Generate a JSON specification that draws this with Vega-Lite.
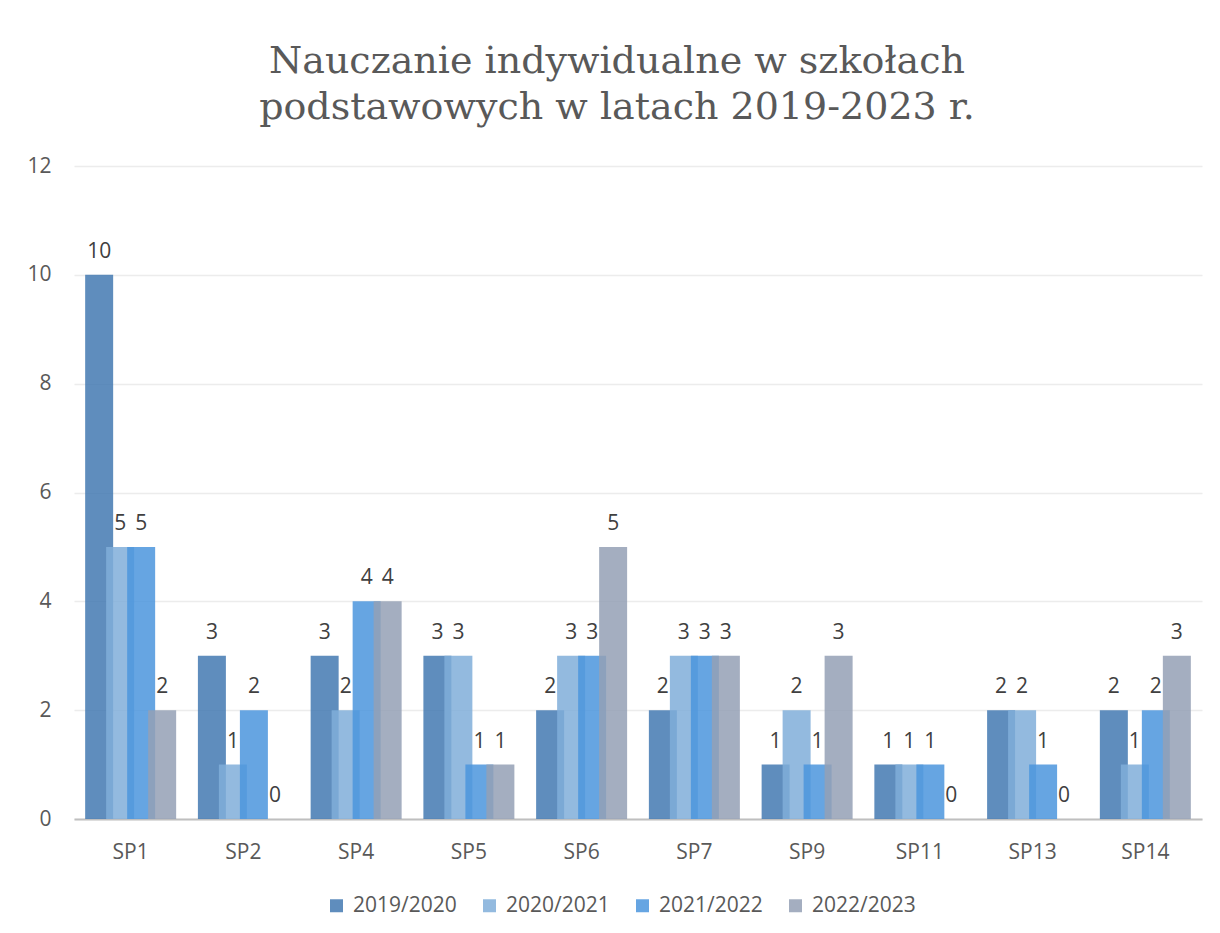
{
  "$schema": "https://vega.github.io/schema/vega-lite/v6.json",
  "width": 1128,
  "height": 653,
  "autosize": {"type": "none"},
  "padding": {"left": 74, "top": 166, "right": 18, "bottom": 114},
  "background": "white",
  "title": {
    "text": ["Nauczanie indywidualne w szkołach", "podstawowych w latach 2019-2023 r."],
    "font": "DejaVu Serif",
    "fontSize": 38,
    "fontWeight": "normal",
    "color": "#595959",
    "anchor": "middle",
    "frame": "group",
    "dx": -21,
    "lineHeight": 46,
    "baseline": "bottom",
    "offset": -10
  },
  "data": {
    "values": [
      {"school": "SP1", "year": "2019/2020", "value": 10},
      {"school": "SP1", "year": "2020/2021", "value": 5},
      {"school": "SP1", "year": "2021/2022", "value": 5},
      {"school": "SP1", "year": "2022/2023", "value": 2},
      {"school": "SP2", "year": "2019/2020", "value": 3},
      {"school": "SP2", "year": "2020/2021", "value": 1},
      {"school": "SP2", "year": "2021/2022", "value": 2},
      {"school": "SP2", "year": "2022/2023", "value": 0},
      {"school": "SP4", "year": "2019/2020", "value": 3},
      {"school": "SP4", "year": "2020/2021", "value": 2},
      {"school": "SP4", "year": "2021/2022", "value": 4},
      {"school": "SP4", "year": "2022/2023", "value": 4},
      {"school": "SP5", "year": "2019/2020", "value": 3},
      {"school": "SP5", "year": "2020/2021", "value": 3},
      {"school": "SP5", "year": "2021/2022", "value": 1},
      {"school": "SP5", "year": "2022/2023", "value": 1},
      {"school": "SP6", "year": "2019/2020", "value": 2},
      {"school": "SP6", "year": "2020/2021", "value": 3},
      {"school": "SP6", "year": "2021/2022", "value": 3},
      {"school": "SP6", "year": "2022/2023", "value": 5},
      {"school": "SP7", "year": "2019/2020", "value": 2},
      {"school": "SP7", "year": "2020/2021", "value": 3},
      {"school": "SP7", "year": "2021/2022", "value": 3},
      {"school": "SP7", "year": "2022/2023", "value": 3},
      {"school": "SP9", "year": "2019/2020", "value": 1},
      {"school": "SP9", "year": "2020/2021", "value": 2},
      {"school": "SP9", "year": "2021/2022", "value": 1},
      {"school": "SP9", "year": "2022/2023", "value": 3},
      {"school": "SP11", "year": "2019/2020", "value": 1},
      {"school": "SP11", "year": "2020/2021", "value": 1},
      {"school": "SP11", "year": "2021/2022", "value": 1},
      {"school": "SP11", "year": "2022/2023", "value": 0},
      {"school": "SP13", "year": "2019/2020", "value": 2},
      {"school": "SP13", "year": "2020/2021", "value": 2},
      {"school": "SP13", "year": "2021/2022", "value": 1},
      {"school": "SP13", "year": "2022/2023", "value": 0},
      {"school": "SP14", "year": "2019/2020", "value": 2},
      {"school": "SP14", "year": "2020/2021", "value": 1},
      {"school": "SP14", "year": "2021/2022", "value": 2},
      {"school": "SP14", "year": "2022/2023", "value": 3}
    ]
  },
  "encoding": {
    "x": {
      "field": "school",
      "type": "nominal",
      "sort": ["SP1", "SP2", "SP4", "SP5", "SP6", "SP7", "SP9", "SP11", "SP13", "SP14"],
      "scale": {"paddingInner": 0.255, "paddingOuter": 0.13},
      "axis": {
        "title": null,
        "labelAngle": 0,
        "labelFont": "Open Sans",
        "labelFontSize": 21,
        "labelColor": "#595959",
        "labelPadding": 22,
        "ticks": false,
        "domainColor": "#bfbfbf",
        "domainWidth": 2,
        "grid": false
      }
    },
    "xOffset": {
      "field": "year",
      "type": "nominal",
      "scale": {"paddingInner": 0, "paddingOuter": 0}
    },
    "y": {
      "field": "value",
      "type": "quantitative",
      "scale": {"domain": [0, 12]},
      "axis": {
        "title": null,
        "values": [0, 2, 4, 6, 8, 10, 12],
        "labelFont": "Open Sans",
        "labelFontSize": 21,
        "labelColor": "#595959",
        "labelPadding": 23,
        "ticks": false,
        "domain": false,
        "gridColor": "#ececec",
        "gridWidth": 1.5
      }
    }
  },
  "layer": [
    {
      "mark": {"type": "bar", "width": 28, "opacity": 0.85},
      "encoding": {
        "color": {
          "field": "year",
          "type": "nominal",
          "scale": {
            "domain": ["2019/2020", "2020/2021", "2021/2022", "2022/2023"],
            "range": ["#4379b2", "#80aed9", "#4b95dd", "#94a0b5"]
          },
          "legend": {
            "title": null,
            "orient": "none",
            "legendX": 252,
            "legendY": 729,
            "direction": "horizontal",
            "symbolType": "square",
            "symbolSize": 169,
            "symbolStrokeWidth": 0,
            "labelFont": "Open Sans",
            "labelFontSize": 21,
            "labelColor": "#595959",
            "labelOffset": 6,
            "columnPadding": 22
          }
        }
      }
    },
    {
      "mark": {
        "type": "text",
        "baseline": "alphabetic",
        "dy": -17,
        "font": "Open Sans",
        "fontSize": 21,
        "color": "#404040"
      },
      "encoding": {
        "text": {"field": "value", "type": "quantitative"}
      }
    }
  ],
  "config": {"view": {"stroke": null}}
}
